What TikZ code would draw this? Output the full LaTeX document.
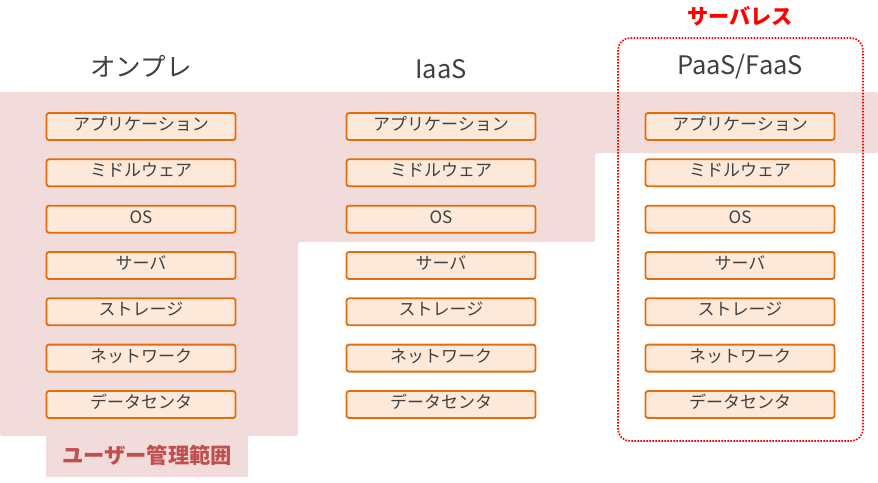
\documentclass[tikz,border=0pt]{standalone}
\usepackage{fontspec}
\setmainfont{Noto Sans CJK JP}
\definecolor{pinkbg}{HTML}{F2DCDB}
\definecolor{boxfill}{HTML}{FDE9D9}
\definecolor{boxline}{HTML}{E46C0A}
\definecolor{txt}{HTML}{404040}
\definecolor{lbl}{HTML}{C0504D}
\tikzset{
  layerbox/.style={draw=boxline, fill=boxfill, line width=1.8pt, rounded corners=2.5pt,
    minimum width=189pt, minimum height=27pt, inner sep=0pt, text=txt,
    text height=13pt, text depth=5pt,
    font=\fontsize{17}{19}\selectfont},
  heading/.style={text=txt, inner sep=0pt, font=\fontsize{25.5}{29}\selectfont},
}
\begin{document}
\begin{tikzpicture}[x=1pt,y=-1pt]
\useasboundingbox (0,0) rectangle (878,482);
% user-managed area
\fill[pinkbg, rounded corners=2pt] (0,92) -- (878,92) -- (878,153) -- (595,153) -- (595,242) -- (298,242) -- (298,436) -- (0,436) -- cycle;
\fill[pinkbg] (46,435) rectangle (248,477);
\node[text=lbl, inner sep=0pt, font=\fontsize{21.3}{25}\selectfont\bfseries] (lbl) at (147,455) {ユーザー管理範囲};
% serverless frame
\draw[red, line width=1.6pt, dash pattern=on 1.6pt off 1.4pt, rounded corners=12pt] (618,38) rectangle (863,441);
\node[text=red, inner sep=0pt, font=\fontsize{21.2}{25}\selectfont\bfseries] (sl) at (740,16) {サーバレス};
% headings
\node[heading] (h1) at (141,66) {オンプレ};
\node[heading] (h2) at (441,69) {IaaS};
\node[heading] (h3) at (740,67) {PaaS/FaaS};
% boxes
\foreach \c/\x in {1/141, 2/441, 3/740} {
  \node[layerbox] (app\c) at (\x,126.5) {アプリケーション};
  \node[layerbox] (mw\c)  at (\x,172.8) {ミドルウェア};
  \node[layerbox] (os\c)  at (\x,219.2) {OS};
  \node[layerbox] (sv\c)  at (\x,265.5) {サーバ};
  \node[layerbox] (st\c)  at (\x,311.8) {ストレージ};
  \node[layerbox] (nw\c)  at (\x,358.1) {ネットワーク};
  \node[layerbox] (dc\c)  at (\x,404.5) {データセンタ};
}
\end{tikzpicture}
\end{document}
